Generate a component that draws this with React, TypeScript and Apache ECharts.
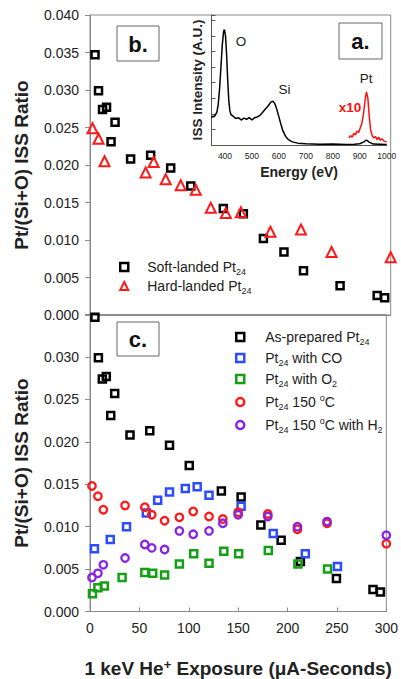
import React, { useEffect, useRef } from "react";
import * as echarts from "echarts";

// ---- Panel b / c data (x: 1 keV He+ exposure, µA-s; y: Pt/(Si+O) ISS ratio) ----
const softX = [5, 8.5, 12.5, 16.5, 25, 21, 40.5, 60.5, 80.5, 100.5, 133, 153, 173, 193.5, 213, 249.5, 286.5, 294];
const softY = [0.0347, 0.0299, 0.0274, 0.0277, 0.0257, 0.0231, 0.0208, 0.0213, 0.0196, 0.0172, 0.0142, 0.0135, 0.0102, 0.0084, 0.0059, 0.0039, 0.0026, 0.0023];

const hardX = [2.5, 8.5, 14.5, 55.5, 63.5, 75.5, 90.5, 105.5, 120.5, 135.5, 150.5, 180, 210.5, 241, 300];
const hardY = [0.0249, 0.0235, 0.0205, 0.019, 0.0204, 0.0181, 0.0173, 0.0167, 0.0143, 0.0136, 0.0137, 0.0111, 0.0114, 0.0084, 0.0077];

const coX = [4.5, 20.5, 37, 57, 68.5, 80.5, 96.5, 108.5, 120.5, 153, 185.5, 218, 250.5];
const coY = [0.0074, 0.0085, 0.01, 0.0116, 0.0131, 0.0141, 0.0145, 0.0147, 0.0137, 0.0124, 0.0092, 0.0068, 0.0053];

const o2X = [2.5, 8, 14.5, 32.5, 55.5, 63.5, 75.5, 90.5, 105, 120.5, 135.5, 150.5, 180.5, 210.5, 240.5, 300.5];
const o2Y = [0.0021, 0.0028, 0.003, 0.004, 0.0046, 0.0045, 0.0043, 0.0056, 0.0068, 0.0057, 0.0071, 0.0068, 0.0072, 0.0056, 0.005, 0.0038];

const hotX = [2, 8, 13.5, 35.5, 55.5, 62.5, 75.5, 90.5, 104.5, 120.5, 134.5, 150, 180, 210, 240, 300];
const hotY = [0.0148, 0.0136, 0.012, 0.0125, 0.0123, 0.0114, 0.0107, 0.0111, 0.0118, 0.0112, 0.0109, 0.0117, 0.0115, 0.0097, 0.0104, 0.008];

const h2X = [2, 8, 13.5, 35.5, 55.5, 62.5, 75.5, 90.5, 104.5, 120.5, 134.5, 150, 180, 210, 240, 300];
const h2Y = [0.004, 0.0045, 0.0055, 0.0063, 0.0079, 0.0075, 0.0073, 0.0095, 0.0091, 0.0095, 0.0104, 0.0114, 0.0112, 0.01, 0.0106, 0.009];

// ---- Panel a inset: ISS spectrum ----
const energyBlack = [350, 355, 360, 365, 370, 375, 380, 385, 390, 395, 398, 402, 406, 410, 414, 418, 422, 430, 440, 450, 460, 470, 480, 490, 500, 510, 520, 530, 540, 550, 560, 570, 578, 585, 592, 600, 608, 615, 625, 635, 650, 670, 700, 750, 800, 850, 880, 900, 915, 925, 935, 950, 1000];
const intensityBlack = [1.75, 1.85, 1.8, 1.95, 2.1, 2.6, 3.6, 5.0, 6.4, 7.3, 7.4, 7.0, 5.8, 4.2, 2.9, 2.2, 1.95, 1.85, 1.7, 1.75, 1.6, 1.72, 1.65, 1.75, 1.6, 1.75, 1.8, 1.9, 2.1, 2.3, 2.5, 2.75, 2.8, 2.65, 2.3, 1.8, 1.3, 0.9, 0.55, 0.35, 0.2, 0.12, 0.08, 0.05, 0.06, 0.04, 0.05, 0.08, 0.2, 0.32, 0.18, 0.06, 0.04];

const energyRed = [860, 866, 872, 878, 884, 890, 896, 902, 908, 914, 920, 925, 930, 935, 940, 946, 952, 958, 964, 970, 976, 982, 990, 1000];
const intensityRed = [0.45, 0.6, 0.5, 0.75, 0.65, 0.9, 0.8, 1.1, 1.4, 2.0, 2.9, 3.4, 3.0, 1.9, 1.0, 0.6, 0.45, 0.55, 0.35, 0.5, 0.3, 0.4, 0.25, 0.2];

const xTicks = { min: 0, max: 300, interval: 50 };

const FONT = "'Liberation Sans', Arial, Helvetica, sans-serif";
const AX = "#8a8a8a";
const TXT = "#222";

const pairs = (xs: number[], ys: number[]) => xs.map((x, i) => [x, ys[i]]);

const legendLabels: Record<string, string> = {
  "Soft-landed Pt24": "{g|}{n|Soft-landed Pt}{sub|24}",
  "Hard-landed Pt24": "{g|}{n|Hard-landed Pt}{sub|24}",
  "As-prepared Pt24": "{h|}{n|As-prepared Pt}{sub|24}",
  "Pt24 with CO": "{h|}{n|Pt}{sub|24}{n| with CO}",
  "Pt24 with O2": "{h|}{n|Pt}{sub|24}{n| with O}{sub|2}",
  "Pt24 150 C": "{h|}{n|Pt}{sub|24}{n| 150 }{sup|o}{n|C}",
  "Pt24 150 C with H2": "{h|}{n|Pt}{sub|24}{n| 150 }{sup|o}{n|C with H}{sub|2}",
};

const legendRich = {
  g: { width: 14 },
  h: { width: 16 },
  n: { fontSize: 14, fontFamily: FONT, color: TXT, lineHeight: 18 },
  sub: { fontSize: 9, fontFamily: FONT, color: TXT, lineHeight: 10, verticalAlign: "bottom" },
  sup: { fontSize: 9, fontFamily: FONT, color: TXT, lineHeight: 10, verticalAlign: "top" },
};

const fmt3 = (v: number) => v.toFixed(3);

export default function App() {
  const ref = useRef<HTMLDivElement>(null);
  useEffect(() => {
    document.body.style.margin = "0";
    const chart = echarts.init(ref.current!, null, { renderer: "svg" });

    const scatter = (name: string, grid: number, xs: number[], ys: number[], symbol: string, size: number, color: string, bw: number) => ({
      name,
      type: "scatter",
      xAxisIndex: grid,
      yAxisIndex: grid,
      data: pairs(xs, ys),
      symbol,
      symbolSize: size,
      itemStyle: { color: "rgba(255,255,255,0)", borderColor: color, borderWidth: bw, opacity: 1 },
      emphasis: { disabled: true },
    });

    const yTitle = {
      name: "Pt/(Si+O) ISS Ratio",
      nameLocation: "middle",
      nameGap: 59,
      nameTextStyle: { fontSize: 19, fontWeight: "bold", fontFamily: FONT, color: TXT },
    };

    const legendCommon = {
      orient: "vertical",
      itemWidth: 8,
      itemHeight: 8,
      formatter: (n: string) => legendLabels[n],
      textStyle: { rich: legendRich },
      itemStyle: { borderWidth: 2.5 },
      selectedMode: false,
    };

    const option: any = {
      animation: false,
      backgroundColor: "#fff",
      grid: [
        { left: 90, top: 15, width: 300.7, height: 300, show: true, borderColor: AX, borderWidth: 1 },
        { left: 90, top: 314.6, width: 300.7, height: 298.9, show: true, borderColor: AX, borderWidth: 1 },
        { left: 211.5, top: 15, width: 175.2, height: 130 },
      ],
      xAxis: [
        {
          gridIndex: 0, type: "value", ...xTicks,
          axisLabel: { show: false }, axisTick: { show: false }, splitLine: { show: false },
          axisLine: { lineStyle: { color: AX } },
        },
        {
          gridIndex: 1, type: "value", ...xTicks,
          axisLabel: { fontSize: 14, color: TXT, fontFamily: FONT, margin: 9 },
          axisTick: { inside: true, length: 4, lineStyle: { color: AX } },
          splitLine: { show: false },
          axisLine: { lineStyle: { color: AX } },
          name: "{b|1 keV He}{s|+}{b| Exposure (μA-Seconds)}",
          nameLocation: "middle",
          nameGap: 46,
          nameTextStyle: {
            rich: {
              b: { fontSize: 19, fontWeight: "bold", fontFamily: FONT, color: TXT, lineHeight: 22 },
              s: { fontSize: 13, fontWeight: "bold", fontFamily: FONT, color: TXT, lineHeight: 12, verticalAlign: "top" },
            },
          },
        },
        {
          gridIndex: 2, type: "value", min: 350, max: 1000, interval: 50,
          axisLabel: {
            fontSize: 8.5, color: TXT, fontFamily: FONT, margin: 6,
            formatter: (v: number) => (v % 100 === 0 ? String(v) : ""),
          },
          axisTick: { show: false },
          splitLine: { show: false },
          axisLine: { lineStyle: { color: "#555" } },
          name: "Energy (eV)",
          nameLocation: "middle",
          nameGap: 20,
          nameTextStyle: { fontSize: 14, fontWeight: "bold", fontFamily: FONT, color: TXT },
        },
      ],
      yAxis: [
        {
          gridIndex: 0, type: "value", min: 0, max: 0.04, interval: 0.005,
          axisLabel: { fontSize: 14, color: TXT, fontFamily: FONT, margin: 11, formatter: fmt3 },
          axisTick: { show: true, length: 5, lineStyle: { color: AX } },
          axisLine: { show: true, lineStyle: { color: AX } },
          splitLine: { show: false },
          ...yTitle,
        },
        {
          gridIndex: 1, type: "value", min: 0, max: 0.035, interval: 0.005,
          axisLabel: {
            fontSize: 14, color: TXT, fontFamily: FONT, margin: 11,
            formatter: (v: number) => (Math.abs(v - 0.035) < 1e-9 ? "" : fmt3(v)),
          },
          axisTick: { show: true, length: 5, lineStyle: { color: AX } },
          axisLine: { show: true, lineStyle: { color: AX } },
          splitLine: { show: false },
          ...yTitle,
        },
        {
          gridIndex: 2, type: "value", min: 0, max: 8.33, interval: 1,
          axisLabel: { show: false },
          axisTick: { show: true, inside: true, length: 4, lineStyle: { color: "#555" } },
          axisLine: { show: true, lineStyle: { color: "#555" } },
          splitLine: { show: false },
          name: "ISS Intensity (A.U.)",
          nameLocation: "middle",
          nameGap: 7,
          nameTextStyle: { fontSize: 13.5, fontWeight: "bold", fontFamily: FONT, color: TXT },
        },
      ],
      legend: [
        {
          ...legendCommon,
          data: [
            { name: "Soft-landed Pt24" },
            { name: "Hard-landed Pt24", itemStyle: { borderWidth: 2 } },
          ],
          left: 114, top: 255, itemGap: 3,
        },
        {
          ...legendCommon,
          data: ["As-prepared Pt24", "Pt24 with CO", "Pt24 with O2", "Pt24 150 C", "Pt24 150 C with H2"],
          left: 230, top: 325, itemGap: 5,
        },
      ],
      series: [
        scatter("Soft-landed Pt24", 0, softX, softY, "rect", 7, "#000", 2.5),
        scatter("Hard-landed Pt24", 0, hardX, hardY, "triangle", 10, "#ff1a1a", 2),
        scatter("As-prepared Pt24", 1, softX, softY, "rect", 7, "#000", 2.5),
        scatter("Pt24 with CO", 1, coX, coY, "rect", 7, "#2d4cff", 2.5),
        scatter("Pt24 with O2", 1, o2X, o2Y, "rect", 7, "#14a014", 2.5),
        scatter("Pt24 150 C", 1, hotX, hotY, "circle", 7.5, "#ff1a1a", 2.3),
        scatter("Pt24 150 C with H2", 1, h2X, h2Y, "circle", 7.5, "#8a22e6", 2.3),
        {
          name: "spectrum", type: "line", xAxisIndex: 2, yAxisIndex: 2,
          data: pairs(energyBlack, intensityBlack), showSymbol: false,
          lineStyle: { color: "#000", width: 1.5 }, emphasis: { disabled: true },
        },
        {
          name: "x10", type: "line", xAxisIndex: 2, yAxisIndex: 2,
          data: pairs(energyRed, intensityRed), showSymbol: false,
          lineStyle: { color: "#ff1010", width: 1.5 }, emphasis: { disabled: true },
        },
      ],
      graphic: [
        { type: "rect", shape: { x: 117, y: 26, width: 42, height: 35 }, style: { fill: "#fff", stroke: "#666", lineWidth: 1 }, z: 100 },
        { type: "text", x: 138, y: 44, style: { text: "b.", fontSize: 22, fontWeight: "bold", fontFamily: FONT, fill: "#111", align: "center", verticalAlign: "middle" }, z: 101 },
        { type: "rect", shape: { x: 117, y: 322, width: 42, height: 34 }, style: { fill: "#fff", stroke: "#666", lineWidth: 1 }, z: 100 },
        { type: "text", x: 138, y: 339, style: { text: "c.", fontSize: 22, fontWeight: "bold", fontFamily: FONT, fill: "#111", align: "center", verticalAlign: "middle" }, z: 101 },
        { type: "rect", shape: { x: 339, y: 23, width: 43, height: 36 }, style: { fill: "#fff", stroke: "#666", lineWidth: 1 }, z: 100 },
        { type: "text", x: 360.5, y: 41.5, style: { text: "a.", fontSize: 22, fontWeight: "bold", fontFamily: FONT, fill: "#111", align: "center", verticalAlign: "middle" }, z: 101 },
        { type: "text", x: 241, y: 41, style: { text: "O", fontSize: 13.5, fontFamily: FONT, fill: TXT, align: "center", verticalAlign: "middle" }, z: 101 },
        { type: "text", x: 284.5, y: 89.5, style: { text: "Si", fontSize: 13.5, fontFamily: FONT, fill: TXT, align: "center", verticalAlign: "middle" }, z: 101 },
        { type: "text", x: 366, y: 78.5, style: { text: "Pt", fontSize: 13.5, fontFamily: FONT, fill: TXT, align: "center", verticalAlign: "middle" }, z: 101 },
        { type: "text", x: 350, y: 107.5, style: { text: "x10", fontSize: 13.5, fontWeight: "bold", fontFamily: FONT, fill: "#ff1010", align: "center", verticalAlign: "middle" }, z: 101 },
      ],
    };

    chart.setOption(option);
    return () => chart.dispose();
  }, []);

  return <div ref={ref} style={{ width: 401, height: 679 }} />;
}
